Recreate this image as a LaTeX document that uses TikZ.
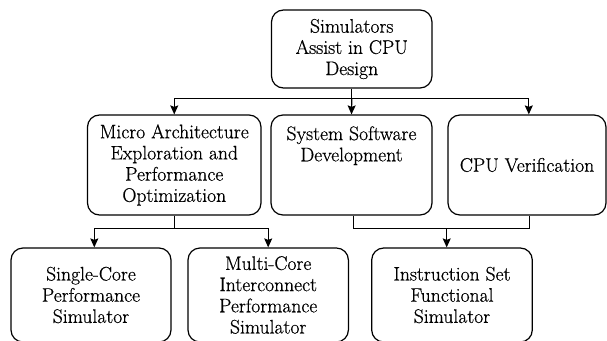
\documentclass[tikz,border=0pt]{standalone}
\usepackage{fontspec}
\newfontfamily\boxfont{Latin Modern Roman}[FakeBold=0.6]
\usetikzlibrary{arrows.meta}
\begin{document}
\begin{tikzpicture}[x=1pt,y=-1pt,
  box/.style={draw, line width=1.2pt, rounded corners=12pt, align=center,
    inner sep=0pt, font=\boxfont\fontsize{19.6}{21.2}\selectfont},
  link/.style={line width=1.2pt},
  arr/.style={line width=1.2pt, -{Stealth[length=9pt,width=8pt,inset=1.5pt]}}]
  \fill[white] (0,0) rectangle (607,340);
  \useasboundingbox (0,0) rectangle (607,340);

  % root
  \node[box, minimum width=160.5pt, minimum height=78pt] (top) at (351.75,49)
    {Simulators\\Assist in CPU\\Design};

  % application areas
  \node[box, minimum width=173.5pt, minimum height=100pt] (mA) at (174.25,165)
    {Micro Architecture\\Exploration and\\Performance\\Optimization};
  \node[box, minimum width=161pt, minimum height=100pt] (mB) at (351.5,165)
    {System Software\\Development\\[21.2pt]};
  \node[box, minimum width=158pt, minimum height=100pt] (mC) at (527,165)
    {CPU Verification};

  % simulator kinds
  \node[box, minimum width=160pt, minimum height=94pt] (bA) at (91,295)
    {Single-Core\\Performance\\Simulator};
  \node[box, minimum width=160.4pt, minimum height=94pt] (bB) at (268.2,295)
    {Multi-Core\\Interconnect\\Performance\\Simulator};
  \node[box, minimum width=160.6pt, minimum height=94pt] (bC) at (452,295)
    {Instruction Set\\Functional\\Simulator};

  % root to areas
  \path (top.south) ++(0,9.7) coordinate (t0);
  \draw[link] (top.south) -- (t0);
  \draw[arr] (t0) -| (mA.north);
  \draw[arr] (t0) -- (mB.north);
  \draw[arr] (t0) -| ([xshift=1.8pt]mC.north);

  % micro architecture to performance simulators
  \path (mA.south) ++(0,12.7) coordinate (a0);
  \draw[link] (mA.south) -- (a0);
  \draw[arr] (a0) -| ([xshift=3.3pt]bA.north);
  \draw[arr] (a0) -| (bB.north);

  % software and verification to functional simulator
  \path ([xshift=1.8pt]mB.south) ++(0,12.7) coordinate (c0);
  \path ([xshift=2.3pt]mC.south) ++(0,12.7) coordinate (c1);
  \coordinate (cIn) at ([xshift=-5.3pt]bC.north);
  \draw[link] ([xshift=1.8pt]mB.south) -- (c0) -- (c1) -- ([xshift=2.3pt]mC.south);
  \draw[arr] (c0 -| cIn) -- (cIn);
\end{tikzpicture}
\end{document}
